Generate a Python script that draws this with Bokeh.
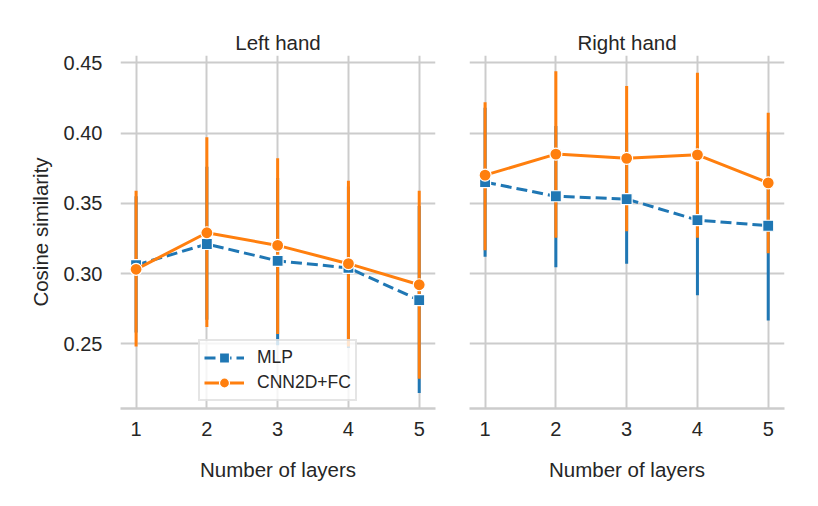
from bokeh.plotting import figure
from bokeh.models import Range1d, FixedTicker, Legend, LegendItem, PrintfTickFormatter
from bokeh.layouts import row
from bokeh.embed import file_html
from bokeh.resources import INLINE

layers = [1, 2, 3, 4, 5]
y_ticks = [0.25, 0.30, 0.35, 0.40, 0.45]
panel_titles = ["Left hand", "Right hand"]
series_names = ["MLP", "CNN2D+FC"]

left_mlp_mean = [0.306, 0.321, 0.309, 0.304, 0.281]
left_mlp_low = [0.258, 0.267, 0.249, 0.247, 0.215]
left_mlp_high = [0.355, 0.376, 0.368, 0.362, 0.348]
left_cnn_mean = [0.303, 0.329, 0.320, 0.307, 0.292]
left_cnn_low = [0.248, 0.262, 0.257, 0.248, 0.225]
left_cnn_high = [0.359, 0.397, 0.382, 0.366, 0.359]

right_mlp_mean = [0.365, 0.355, 0.353, 0.338, 0.334]
right_mlp_low = [0.312, 0.3045, 0.307, 0.2845, 0.2665]
right_mlp_high = [0.418, 0.405, 0.400, 0.391, 0.401]
right_cnn_mean = [0.370, 0.385, 0.382, 0.3845, 0.3645]
right_cnn_low = [0.3165, 0.3255, 0.330, 0.3255, 0.3145]
right_cnn_high = [0.422, 0.444, 0.4335, 0.443, 0.4145]

BLUE = "#1f77b4"
ORANGE = "#ff7f0e"
GRID = "#cccccc"
TEXT = "#262626"
FONT = "Liberation Sans"
FS_TICK = "20px"
FS_LABEL = "20.5px"


def make_panel(title, mlp, cnn, first):
    p = figure(
        width=455 if first else 349,
        height=498,
        x_range=Range1d(0.78, 5.23),
        y_range=Range1d(0.2039, 0.4552),
        output_backend="svg",
        toolbar_location=None,
        min_border_left=120 if first else 14,
        min_border_right=20,
        min_border_top=55,
        min_border_bottom=90,
    )
    p.outline_line_color = None
    p.background_fill_color = "white"
    p.title.text = title
    p.title.align = "center"
    p.title.text_font = FONT
    p.title.text_font_size = FS_LABEL
    p.title.text_font_style = "normal"
    p.title.text_color = TEXT
    p.title.standoff = 3

    p.xaxis.ticker = FixedTicker(ticks=layers)
    p.yaxis.ticker = FixedTicker(ticks=y_ticks)
    p.yaxis.formatter = PrintfTickFormatter(format="%.2f")
    p.xgrid.ticker = FixedTicker(ticks=layers)
    p.ygrid.ticker = FixedTicker(ticks=y_ticks)
    for g in (p.xgrid, p.ygrid):
        g.grid_line_color = GRID
        g.grid_line_width = 2

    ax = p.xaxis[0]
    ax.axis_line_color = GRID
    ax.axis_line_width = 2.5
    ax.major_tick_line_color = None
    ax.minor_tick_line_color = None
    ax.major_label_standoff = 7
    ax.major_label_text_font = FONT
    ax.major_label_text_font_size = FS_TICK
    ax.major_label_text_color = TEXT
    ax.axis_label = "Number of layers"
    ax.axis_label_text_font = FONT
    ax.axis_label_text_font_size = FS_LABEL
    ax.axis_label_text_font_style = "normal"
    ax.axis_label_text_color = TEXT
    ax.axis_label_standoff = 19

    ay = p.yaxis[0]
    if first:
        ay.axis_line_color = None
        ay.major_tick_line_color = None
        ay.minor_tick_line_color = None
        ay.major_label_standoff = 12
        ay.major_label_text_font = FONT
        ay.major_label_text_font_size = FS_TICK
        ay.major_label_text_color = TEXT
        ay.axis_label = "Cosine similarity"
        ay.axis_label_text_font = FONT
        ay.axis_label_text_font_size = FS_LABEL
        ay.axis_label_text_font_style = "normal"
        ay.axis_label_text_color = TEXT
        ay.axis_label_standoff = 9
    else:
        ay.visible = False

    (m_mean, m_low, m_high), (c_mean, c_low, c_high) = mlp, cnn
    p.segment(layers, m_low, layers, m_high, line_color=BLUE, line_width=3)
    p.segment(layers, c_low, layers, c_high, line_color=ORANGE, line_width=3)
    ml = p.line(layers, m_mean, line_color=BLUE, line_width=3, line_dash="11 5")
    ms = p.scatter(layers, m_mean, marker="square", size=11, fill_color=BLUE,
                   line_color="white", line_width=1.2)
    cl = p.line(layers, c_mean, line_color=ORANGE, line_width=3)
    cs = p.scatter(layers, c_mean, marker="circle", size=12, fill_color=ORANGE,
                   line_color="white", line_width=1.2)

    if first:
        leg = Legend(
            items=[LegendItem(label=series_names[0], renderers=[ml, ms]),
                   LegendItem(label=series_names[1], renderers=[cl, cs])],
            location=(78, 7),
            orientation="vertical",
            padding=4,
            spacing=0,
            margin=0,
            glyph_width=40,
            glyph_height=25,
            label_height=25,
            label_standoff=13,
            label_text_font=FONT,
            label_text_font_size="17.5px",
            label_text_color=TEXT,
            border_line_color=GRID,
            border_line_width=2,
            background_fill_color="white",
            background_fill_alpha=0.8,
        )
        p.add_layout(leg, "center")
    return p


p1 = make_panel(panel_titles[0], (left_mlp_mean, left_mlp_low, left_mlp_high),
                (left_cnn_mean, left_cnn_low, left_cnn_high), True)
p2 = make_panel(panel_titles[1], (right_mlp_mean, right_mlp_low, right_mlp_high),
                (right_cnn_mean, right_cnn_low, right_cnn_high), False)

layout = row(p1, p2)
open("out.html", "w").write(file_html(layout, INLINE))
